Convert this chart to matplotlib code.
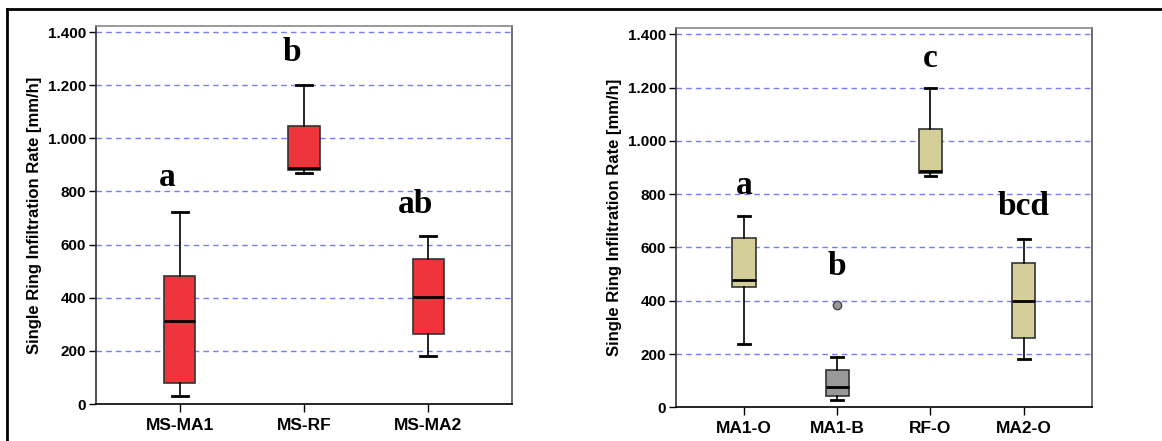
import matplotlib
matplotlib.use("Agg")
import matplotlib.pyplot as plt
from matplotlib.lines import Line2D

# ---- data (five-number summaries) ----
left_cats = ["MS-MA1", "MS-RF", "MS-MA2"]
left_low = [29, 870, 181]
left_q1 = [79, 880, 263]
left_med = [313, 887, 401]
left_q3 = [480, 1045, 544]
left_high = [721, 1200, 631]
left_letters = ["a", "b", "ab"]
left_letter_y = [852, 1322, 750]

right_cats = ["MA1-O", "MA1-B", "RF-O", "MA2-O"]
right_low = [239, 27, 870, 180]
right_q1 = [451, 42, 880, 261]
right_med = [478, 77, 887, 398]
right_q3 = [634, 141, 1044, 543]
right_high = [718, 190, 1200, 630]
right_fliers = [[], [384], [], []]
right_letters = ["a", "b", "c", "bcd"]
right_letter_y = [834, 527, 1311, 752]

yticks = [0, 200, 400, 600, 800, 1000, 1200, 1400]
ytick_labels = ["0", "200", "400", "600", "800", "1.000", "1.200", "1.400"]

RED = "#EE333A"
TAN = "#D4CF99"
GRAY = "#999999"

fig = plt.figure(figsize=(11.62, 4.41), dpi=100)


def make_stats(cats, low, q1, med, q3, high, fliers=None):
    stats = []
    for i, c in enumerate(cats):
        stats.append(dict(label=c, whislo=low[i], q1=q1[i], med=med[i],
                          q3=q3[i], whishi=high[i],
                          fliers=(fliers[i] if fliers else [])))
    return stats


def draw_panel(rect, cats, stats, colors, letters, letter_y, letter_dx, ytop, xpad):
    ax = fig.add_axes(rect)
    pos = list(range(1, len(cats) + 1))
    bp = ax.bxp(stats, positions=pos, widths=0.25, patch_artist=True,
                showfliers=True,
                boxprops=dict(edgecolor="#333333", linewidth=1.2),
                medianprops=dict(color="black", linewidth=2.0),
                whiskerprops=dict(color="black", linewidth=1.2),
                capprops=dict(color="black", linewidth=2.0),
                flierprops=dict(marker="o", markerfacecolor=GRAY,
                                markeredgecolor="#444444", markersize=6))
    for patch, col in zip(bp["boxes"], colors):
        patch.set_facecolor(col)
    ax.set_xlim(1 - xpad, len(cats) + xpad)
    ax.set_ylim(0, ytop)
    ax.set_yticks(yticks)
    ax.set_yticklabels(ytick_labels, fontsize=11, fontweight="bold",
                       family="Liberation Sans")
    ax.set_xticks(pos)
    ax.set_xticklabels(cats, fontsize=12.5, fontweight="bold",
                       family="Liberation Sans")
    ax.tick_params(axis="y", length=5, width=1, pad=2)
    ax.tick_params(axis="x", length=6, width=1, pad=4)
    for t in yticks[1:]:
        ax.axhline(t, color="#7a7aff", linestyle=(0, (4, 3)), linewidth=1.0,
                   zorder=0)
    ax.set_ylabel("Single Ring Infiltration Rate [mm/h]", fontsize=12,
                  fontweight="bold", family="Liberation Sans")
    ax.yaxis.set_label_coords(-0.13, 0.5)
    ax.spines["left"].set_color("#333333")
    ax.spines["bottom"].set_color("black")
    ax.spines["top"].set_color("#888888")
    ax.spines["right"].set_color("#555555")
    for s in ax.spines.values():
        s.set_linewidth(1.2)
    for p, lt, ly in zip(pos, letters, letter_y):
        ax.text(p + letter_dx, ly, lt, ha="center", va="center",
                fontsize=24, fontweight="bold", family="Liberation Serif")
    return ax


left_stats = make_stats(left_cats, left_low, left_q1, left_med, left_q3, left_high)
right_stats = make_stats(right_cats, right_low, right_q1, right_med, right_q3,
                         right_high, right_fliers)

draw_panel([96 / 1162, 1 - 404 / 441, 416 / 1162, 378 / 441], left_cats,
           left_stats, [RED, RED, RED], left_letters, left_letter_y, -0.1,
           1422.6, 0.677)
draw_panel([676 / 1162, 1 - 407.3 / 441, 415.7 / 1162, 379 / 441], right_cats,
           right_stats, [TAN, GRAY, TAN, TAN], right_letters, right_letter_y,
           0.0, 1422.5, 0.728)

# outer frame (top and left lines)
fig.add_artist(Line2D([7 / 1162, 1.0], [1 - 8.5 / 441, 1 - 8.5 / 441],
                      transform=fig.transFigure, color="black", linewidth=2))
fig.add_artist(Line2D([7 / 1162, 7 / 1162], [0, 1 - 8.5 / 441],
                      transform=fig.transFigure, color="black", linewidth=2))

fig.savefig("out.png", dpi=100, facecolor="white")
